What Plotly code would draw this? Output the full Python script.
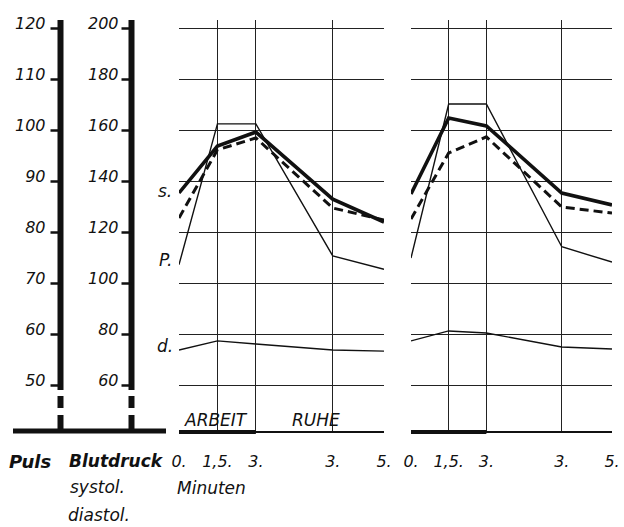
import plotly.graph_objects as go

# ---------------- data ----------------
minutes = [0, 1.5, 3, 6, 8]                 # 0-3 = Arbeit, 6/8 = 3./5. min Ruhe
tick_text = ["0.", "1,5.", "3.", "3.", "5."]

puls_1 = [73.7, 101.3, 101.3, 75.4, 72.8]
systol_1 = [135.5, 153.9, 159.4, 133.1, 124.1]
systol_dash_1 = [125.7, 152.4, 157.1, 129.6, 124.9]
diastol_1 = [73.9, 77.5, 76.3, 73.9, 73.5]

puls_2 = [75.0, 105.2, 105.2, 77.2, 74.2]
systol_2 = [135.1, 164.9, 161.8, 135.5, 130.8]
systol_dash_2 = [125.3, 151.2, 157.5, 130.0, 127.6]
diastol_2 = [77.5, 81.4, 80.6, 75.1, 74.3]

puls_ticks = [50, 60, 70, 80, 90, 100, 110, 120]
blut_ticks = [60, 80, 100, 120, 140, 160, 180, 200]

# ---------------- geometry helpers ----------------
W, H = 624, 527
TOP, BOT = 20, 432


def px(x):
    return x / W


def py(y):
    return (BOT - y) / (BOT - TOP)


bp_range = [200 - (BOT - 28.5) / 2.55, 200 + (28.5 - TOP) / 2.55]
puls_range = [(bp_range[0] + 40) / 2, (bp_range[1] + 40) / 2]

FONT = "DejaVu Sans"
BLACK = "#111111"

fig = go.Figure()

thin = dict(color=BLACK, width=1.4)
thick = dict(color=BLACK, width=3.6)
dashed = dict(color=BLACK, width=3.0, dash="9px,5px")

for xa, puls, sys_, sysd, dia in [
    ("x", puls_1, systol_1, systol_dash_1, diastol_1),
    ("x2", puls_2, systol_2, systol_dash_2, diastol_2),
]:
    fig.add_trace(go.Scatter(x=minutes, y=puls, xaxis=xa, yaxis="y2",
                             mode="lines", line=thin, showlegend=False))
    fig.add_trace(go.Scatter(x=minutes, y=sysd, xaxis=xa, yaxis="y",
                             mode="lines", line=dashed, showlegend=False))
    fig.add_trace(go.Scatter(x=minutes, y=sys_, xaxis=xa, yaxis="y",
                             mode="lines", line=thick, showlegend=False))
    fig.add_trace(go.Scatter(x=minutes, y=dia, xaxis=xa, yaxis="y",
                             mode="lines", line=thin, showlegend=False))

xcommon = dict(
    range=[0, 8], tickmode="array", tickvals=minutes, ticktext=tick_text,
    showgrid=True, gridcolor="#222222", gridwidth=1, zeroline=False,
    showline=False, ticks="", anchor="y", automargin=False,
    tickfont=dict(family=FONT, size=16, color=BLACK, style="italic"),
    ticklabelstandoff=18, fixedrange=True,
)

tickfont_y = dict(family=FONT, size=16, color=BLACK, style="italic")

fig.update_layout(
    width=W, height=H,
    margin=dict(l=0, r=0, t=TOP, b=H - BOT, pad=0),
    paper_bgcolor="white", plot_bgcolor="white",
    xaxis=dict(domain=[px(179), px(384)], **xcommon),
    xaxis2=dict(domain=[px(411), px(612)], **xcommon),
    yaxis=dict(
        range=bp_range, anchor="free", position=px(131.5), side="left",
        tickmode="array", tickvals=blut_ticks,
        showgrid=True, gridcolor="#222222", gridwidth=1, zeroline=False,
        showline=False, ticks="", tickfont=tickfont_y, ticklabelshift=-5,
        ticklabelstandoff=13, automargin=False, fixedrange=True,
    ),
    yaxis2=dict(
        range=puls_range, overlaying="y", anchor="free", position=px(60.5),
        side="left", tickmode="array", tickvals=puls_ticks,
        showgrid=False, zeroline=False, showline=False, ticks="",
        tickfont=tickfont_y, ticklabelshift=-5, ticklabelstandoff=15,
        automargin=False, fixedrange=True,
    ),
)

shapes = []
# thick left scales (solid, then dashed towards the base line)
for xpos in (60.5, 131.5):
    for y0, y1 in [(TOP, 390), (396, 408), (415, 431)]:
        shapes.append(dict(type="line", xref="paper", yref="paper",
                           x0=px(xpos), x1=px(xpos), y0=py(y0), y1=py(y1),
                           line=dict(color=BLACK, width=6)))
# small tick dashes on the scales (placed through the axes' own scales)
for yref, xpos, vals in (("y2", 60.5, puls_ticks), ("y", 131.5, blut_ticks)):
    for v in vals:
        shapes.append(dict(type="line", xref="paper", yref=yref,
                           x0=px(xpos - 10), x1=px(xpos), y0=v, y1=v,
                           line=dict(color=BLACK, width=2.5)))
# base line under the scales
shapes.append(dict(type="line", xref="paper", yref="paper",
                   x0=px(13), x1=px(166), y0=py(431), y1=py(431),
                   line=dict(color=BLACK, width=5)))
# base lines of the panels: thin over all, thick over the work period
for xa in ("x", "x2"):
    shapes.append(dict(type="line", xref=xa, yref="paper",
                       x0=minutes[0], x1=minutes[-1], y0=0, y1=0,
                       line=dict(color=BLACK, width=1.8)))
    shapes.append(dict(type="line", xref=xa, yref="paper",
                       x0=minutes[0], x1=minutes[2], y0=0, y1=0,
                       line=dict(color=BLACK, width=4)))
fig.update_layout(shapes=shapes)

annotations = []


def label(text, x, y, size=17, xanchor="center", bold=False):
    annotations.append(dict(
        text=text, xref="paper", yref="paper", x=px(x), y=py(y),
        xanchor=xanchor, yanchor="middle", showarrow=False,
        font=dict(family=FONT, size=size, color=BLACK, style="italic",
                  weight="bold" if bold else "normal"),
    ))


label("Puls", 7, 461, size=18, xanchor="left", bold=True)
label("Blutdruck", 67, 461, size=17, xanchor="left", bold=True)
label("systol.", 68, 487, size=17, xanchor="left")
label("diastol.", 66, 515, size=17, xanchor="left")
label("Minuten", 175, 488, size=17, xanchor="left")
label("ARBEIT", 182, 420, size=17, xanchor="left")
label("RUHE", 290, 420, size=17, xanchor="left")
label("s.", 165, 191, size=17)
label("P.", 165, 260, size=17)
label("d.", 165, 346, size=17)

fig.update_layout(annotations=annotations)

fig.write_html("out.html")
